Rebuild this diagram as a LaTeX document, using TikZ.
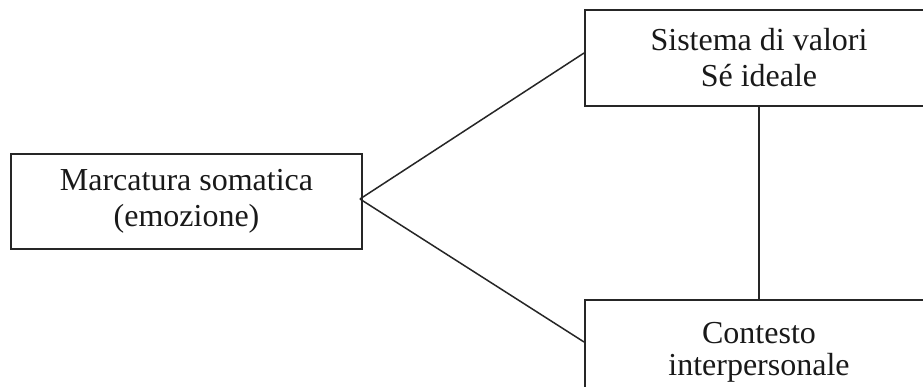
\documentclass[tikz,border=0pt]{standalone}
\usepackage{fontspec}
\setmainfont{Liberation Serif}
\begin{document}
\begin{tikzpicture}[x=1pt,y=-1pt,
  box/.style={draw=black!85, line width=1.9pt, rectangle, inner sep=0pt,
    align=center, font=\fontsize{32}{36}\selectfont, text=black!90},
  link/.style={draw=black!85, line width=1.5pt}]
\useasboundingbox (0,0) rectangle (923,387);
\fill[white] (0,0) rectangle (923,387);
\node[box, minimum width=351pt, minimum height=95pt] (marc) at (186.5,201.5)
  {Marcatura somatica\\(emozione)};
\node[box, minimum width=348pt, minimum height=96pt] (sist) at (759,58)
  {Sistema di valori\\Sé ideale};
\node[box, minimum width=348pt, minimum height=104pt] (cont) at (759,352)
  {Contesto\\[-4pt]interpersonale};
\coordinate (v) at ([xshift=-3pt,yshift=2.5pt]marc.east);
\draw[link] (v) -- ([yshift=5pt]sist.west);
\draw[link] (v) -- ([yshift=10pt]cont.west);
\draw[link] (sist.south) -- (cont.north);
\end{tikzpicture}
\end{document}
